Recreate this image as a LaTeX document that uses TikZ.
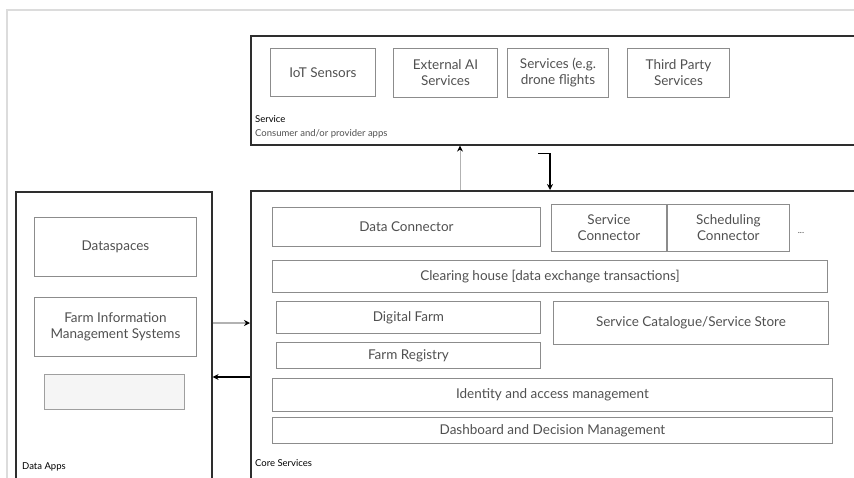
\documentclass[tikz,border=0pt]{standalone}
\usepackage{fontspec}
\setmainfont{Lato}
\usetikzlibrary{positioning}
\usetikzlibrary{arrows.meta}
\definecolor{boxline}{HTML}{8C8C8C}
\definecolor{boxtext}{HTML}{505050}
\definecolor{layerline}{HTML}{2E2E2E}
\definecolor{framegray}{HTML}{DCDCDC}

\begin{document}
\begin{tikzpicture}[x=1pt,y=-1pt,
  box/.style={draw=boxline,line width=0.9pt,inner sep=0pt,align=center,text=boxtext,font=\fontsize{13.5}{16}\selectfont,anchor=north west},
  layer/.style={draw=layerline,line width=1.6pt,inner sep=0pt,anchor=north west},
  tag/.style={inner sep=0pt,anchor=base west,font=\fontsize{9.5}{10}\selectfont},
  flow/.style={-{Stealth[length=6pt,width=6pt,color=black]},line width=1.4pt}]
\useasboundingbox (0,0) rectangle (854,477);
\clip (0,0) rectangle (854,477);
\draw[framegray,line width=1.5pt] (7,490) |- (870,10);

% layers
\node[layer,minimum width=700,minimum height=109] (service) at (250,35) {};
\node[layer,minimum width=700,minimum height=320] (core) at (250,190) {};
\node[layer,minimum width=196,minimum height=320] (apps) at (15,191) {};

% service layer
\node[box,minimum width=105,minimum height=48] (iot) at (270,48) {IoT Sensors};
\node[box,minimum width=104,minimum height=49] (extai) at (393,48) {External AI\\Services};
\node[box,minimum width=101,minimum height=49] (drone) at (507,48) {Services (e.g.\\drone flights};
\node[box,minimum width=102,minimum height=49] (third) at (627,48) {Third Party\\Services};
\node[tag] (servicetag) at (255,122) {Service};
\node[tag,text=boxtext] (servicesub) at (255,136) {Consumer and/or provider apps};

% core services
\node[box,minimum width=268,minimum height=39] (dataconn) at (272,207) {Data Connector};
\node[box,minimum width=115,minimum height=47] (svcconn) at (551,204) {Service\\Connector};
\node[box,minimum width=122,minimum height=47,right=0pt of svcconn] (schedconn) {Scheduling\\Connector};
\node[text=boxtext,font=\fontsize{9}{10}\selectfont] (dots) at (801,233) {...};
\node[box,minimum width=555,minimum height=32] (clearing) at (272,260) {Clearing house [data exchange transactions]};
\node[box,minimum width=264,minimum height=32] (dfarm) at (276,301) {Digital Farm};
\node[box,minimum width=264,minimum height=26,below=8pt of dfarm] (registry) {Farm Registry};
\node[box,minimum width=275,minimum height=43] (catalogue) at (553,301) {Service Catalogue/Service Store};
\node[box,minimum width=560,minimum height=33] (iam) at (272,378) {Identity and access management};
\node[box,minimum width=560,minimum height=26,below=5pt of iam] (dashboard) {Dashboard and Decision Management};
\node[tag] (coretag) at (255,466) {Core Services};

% data apps
\node[box,minimum width=162,minimum height=59] (dataspaces) at (34,217) {Dataspaces};
\node[box,minimum width=162,minimum height=59] (fims) at (34,297) {Farm Information\\Management Systems};
\node[box,draw=gray!75,fill=gray!8,line width=1.3pt,minimum width=140,minimum height=35] (blank) at (44,374) {};
\node[tag] (appstag) at (22,469) {Data Apps};

% flows
\draw[flow,draw=gray!60,line width=0.9pt] ([xshift=210]core.north west) -- ([xshift=210]service.south west);
\draw[flow] ([xshift=288,yshift=-8]service.south west) -| ([xshift=300]core.north west);
\draw[flow,draw=gray!60,line width=1.8pt] ([yshift=-132]apps.north east) -- ([yshift=-132]apps.north east -| core.west);
\draw[flow,line width=1.8pt] ([yshift=-186]apps.north east -| core.west) -- ([yshift=-186]apps.north east);
\end{tikzpicture}
\end{document}
